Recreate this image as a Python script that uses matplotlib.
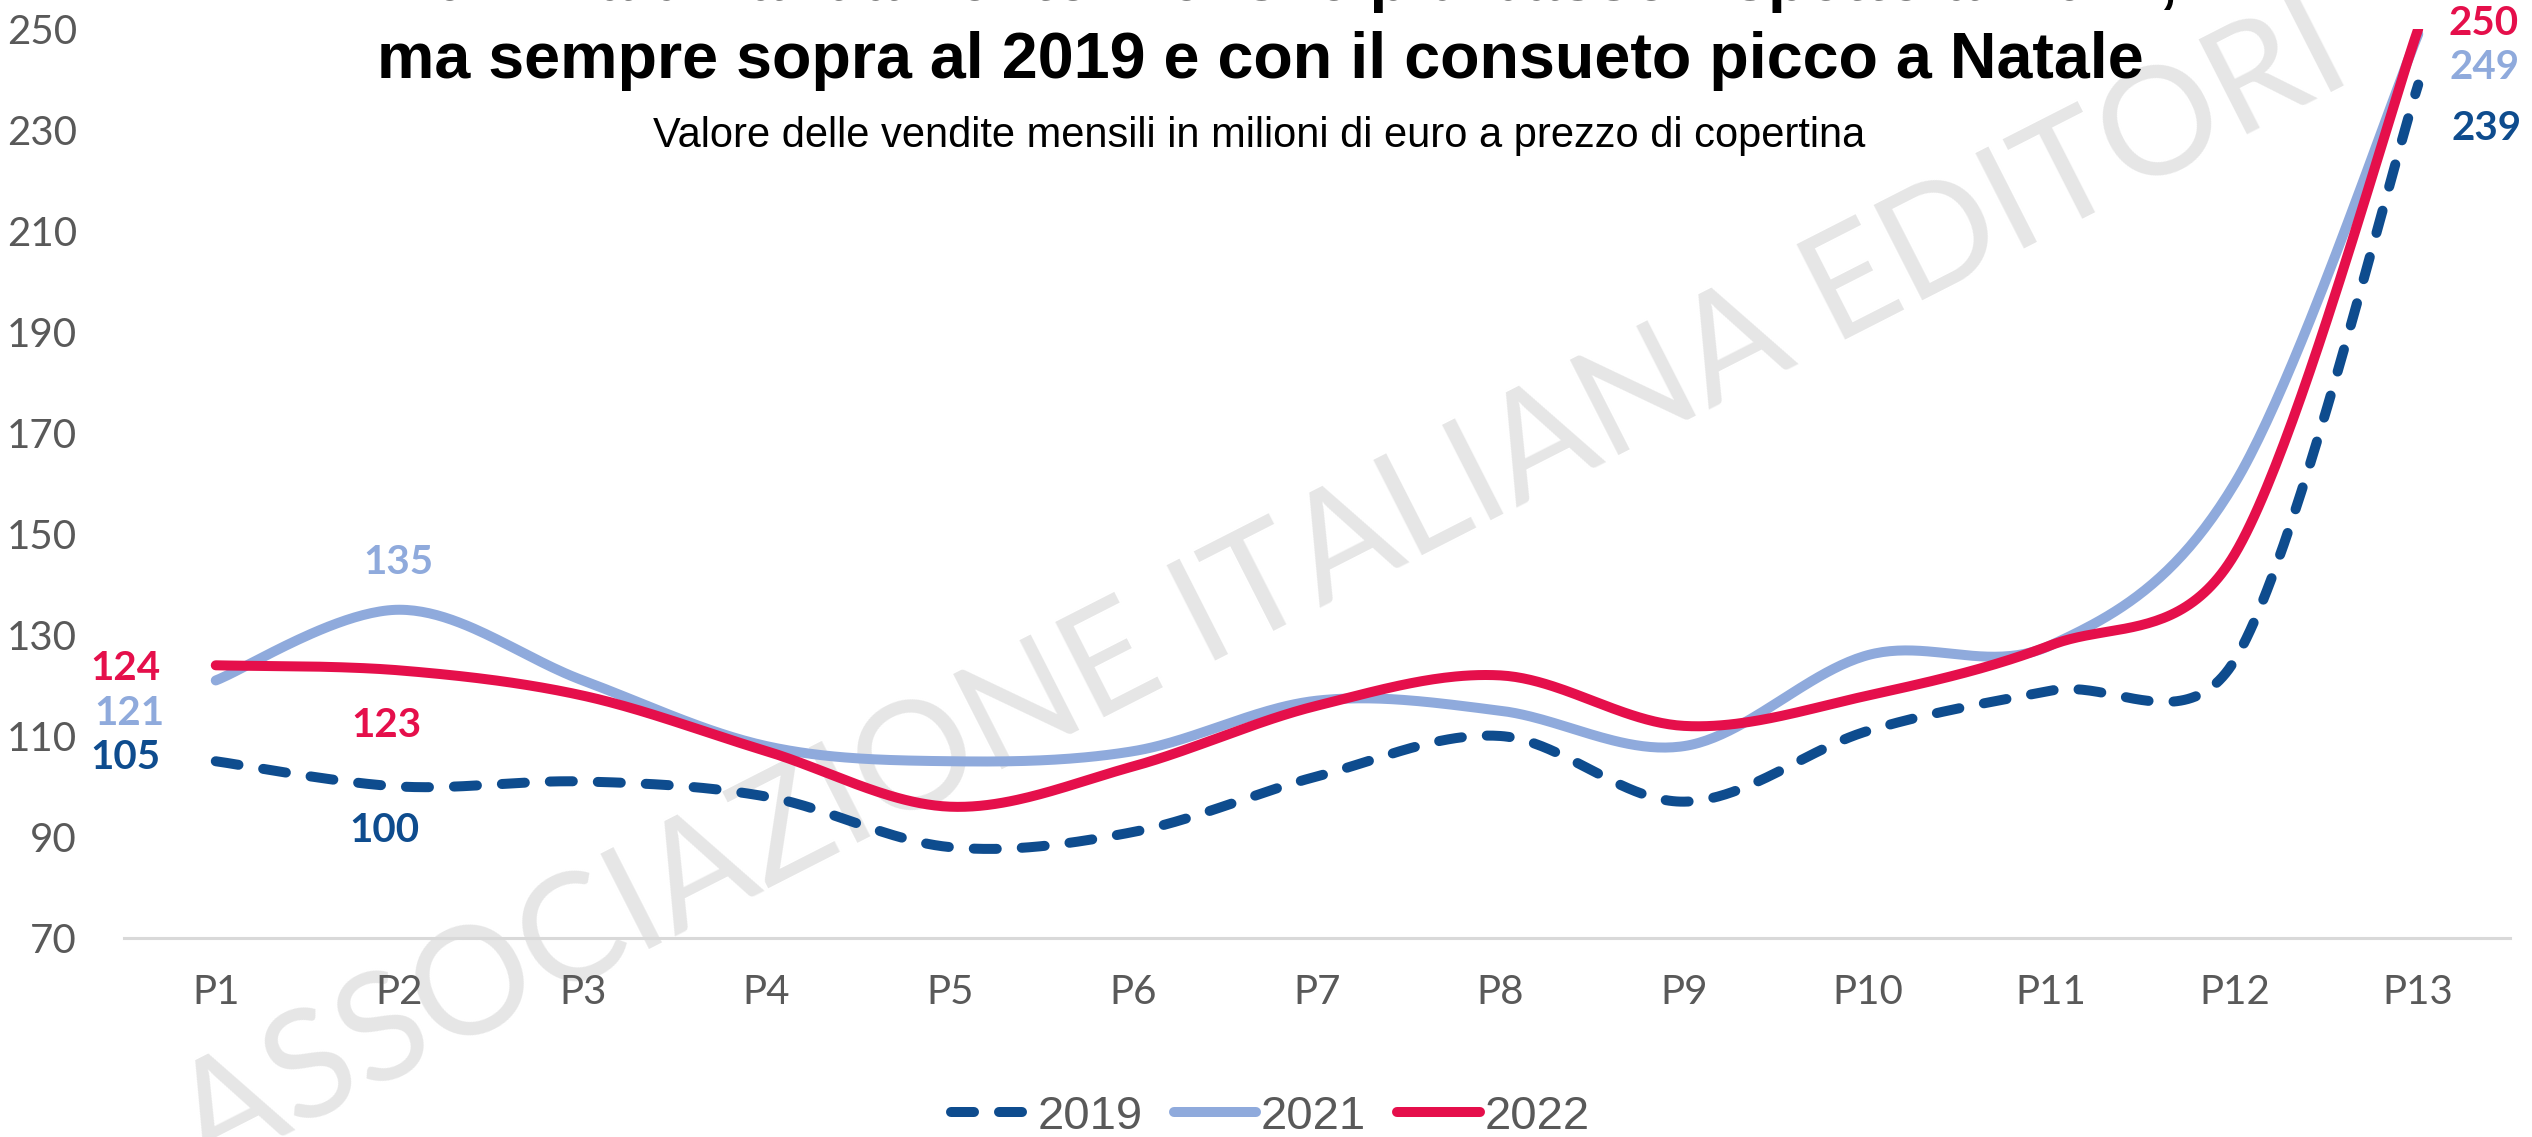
import numpy as np
import matplotlib
matplotlib.use('Agg')
import matplotlib.pyplot as plt
from matplotlib.lines import Line2D

categories = ['P1', 'P2', 'P3', 'P4', 'P5', 'P6', 'P7', 'P8', 'P9', 'P10', 'P11', 'P12', 'P13']
v2019 = [105, 100, 101, 98, 88, 91, 102, 110, 97, 111, 119, 125, 239]
v2021 = [121, 135, 121, 108, 105, 107, 117, 115, 108, 126, 128, 160, 249]
v2022 = [124, 123, 118, 107, 96, 104, 116, 122, 112, 118, 128, 146, 250]
yticks = [70, 90, 110, 130, 150, 170, 190, 210, 230, 250]

title1 = "Il 2022 ha un andamento mensile più basso rispetto al 2021,"
title2 = "ma sempre sopra al 2019 e con il consueto picco a Natale"
subtitle = "Valore delle vendite mensili in milioni di euro a prezzo di copertina"
watermark = "ASSOCIAZIONE ITALIANA EDITORI"

C2019 = '#0E4C8E'
C2021 = '#8FAADC'
C2022 = '#E50F4B'
GRAY = '#595959'
LAB = 'Lato'

fig = plt.figure(figsize=(25.32, 11.37), dpi=100)
ax = fig.add_axes([124 / 2532, 199 / 1137, (2510 - 124) / 2532, (938 - 29) / 1137])
x = np.arange(1, len(categories) + 1)
ax.set_xlim(0.5, len(categories) + 0.5)
ax.set_ylim(70, 250)


def smooth(xs, ys, n=50):
    # Excel-like smoothed line: Bezier segments computed in display space
    pts = ax.transData.transform(np.column_stack([xs, ys]).astype(float))
    P = np.vstack([pts[0], pts, pts[-1]])
    out = []
    for i in range(1, len(P) - 2):
        p0, p1, p2, p3 = P[i - 1], P[i], P[i + 1], P[i + 2]
        half = np.linalg.norm(p2 - p1) / 2.0
        t1 = (p2 - p0) / 6.0
        t2 = (p3 - p1) / 6.0
        n1, n2 = np.linalg.norm(t1), np.linalg.norm(t2)
        if n1 > half:
            t1 = t1 * half / n1
        if n2 > half:
            t2 = t2 * half / n2
        c1, c2 = p1 + t1, p2 - t2
        t = np.linspace(0, 1, n)[:, None]
        seg = ((1 - t) ** 3) * p1 + 3 * ((1 - t) ** 2) * t * c1 + 3 * (1 - t) * t ** 2 * c2 + t ** 3 * p2
        out.append(seg if i == 1 else seg[1:])
    out = ax.transData.inverted().transform(np.vstack(out))
    return out[:, 0], out[:, 1]


LW = 7.2
DASH = (2.3, 2.5)
sx, sy = smooth(x, v2019)
ax.plot(sx, sy, color=C2019, lw=LW, dashes=DASH, dash_capstyle='round', solid_capstyle='round', zorder=3)
sx, sy = smooth(x, v2021)
ax.plot(sx, sy, color=C2021, lw=LW, solid_capstyle='round', zorder=4)
sx, sy = smooth(x, v2022)
ax.plot(sx, sy, color=C2022, lw=LW, solid_capstyle='round', zorder=5)

ax.set_xticks(x)
ax.set_xticklabels(categories)
ax.set_yticks(yticks)
for s in ['top', 'right', 'left']:
    ax.spines[s].set_visible(False)
ax.spines['bottom'].set_color('#D9D9D9')
ax.spines['bottom'].set_linewidth(2.2)
ax.tick_params(axis='both', length=0, labelsize=29, labelcolor=GRAY)
ax.tick_params(axis='x', pad=26)
ax.tick_params(axis='y', pad=34)
for lab in ax.get_xticklabels() + ax.get_yticklabels():
    lab.set_fontfamily(LAB)


def lab(i, vals, txt_color, dx, dy):
    ax.annotate(str(vals[i]), xy=(x[i], vals[i]), xytext=(dx, dy), textcoords='offset points',
                ha='center', va='center', fontsize=29, fontweight='bold', color=txt_color,
                family=LAB, zorder=6, annotation_clip=False)


lab(0, v2022, C2022, -65, -2)
lab(0, v2021, C2021, -62, -24)
lab(0, v2019, C2019, -65, 3)
lab(1, v2021, C2021, -1, 34)
lab(1, v2022, C2022, -9, -40)
lab(1, v2019, C2019, -11, -32)
lab(12, v2022, C2022, 47, 4)
lab(12, v2021, C2021, 48, -24)
lab(12, v2019, C2019, 49, -32)

# watermark
fig.text(1262 / 2532, 1 - 590 / 1137, watermark, rotation=27, ha='center', va='center',
         fontsize=108, color='#E6E6E6', family=LAB, zorder=1)
ax.set_zorder(2)
ax.patch.set_alpha(0)

# titles
fig.text(1260 / 2532, 1 - 0 / 1137, title1, ha='center', va='baseline', fontsize=46.5,
         fontweight='bold', family='Liberation Sans', color='black')
fig.text(1260 / 2532, 1 - 78 / 1137, title2, ha='center', va='baseline', fontsize=46.5,
         fontweight='bold', family='Liberation Sans', color='black')
fig.text(1259 / 2532, 1 - 147 / 1137, subtitle, ha='center', va='baseline', fontsize=30,
         family='Liberation Sans', color='black')

handles = [Line2D([], [], color=C2019, lw=LW, dashes=DASH, dash_capstyle='round'),
           Line2D([], [], color=C2021, lw=LW, solid_capstyle='round'),
           Line2D([], [], color=C2022, lw=LW, solid_capstyle='round')]
leg = fig.legend(handles, ['2019', '2021', '2022'], loc='center', bbox_to_anchor=(1270 / 2532, 1 - 1117 / 1137),
                 ncol=3, frameon=False, prop={'family': 'Liberation Sans', 'size': 34}, handlelength=1.75,
                 handletextpad=0.1, columnspacing=0.65)
for t in leg.get_texts():
    t.set_color(GRAY)

fig.savefig('out.png', dpi=100)
